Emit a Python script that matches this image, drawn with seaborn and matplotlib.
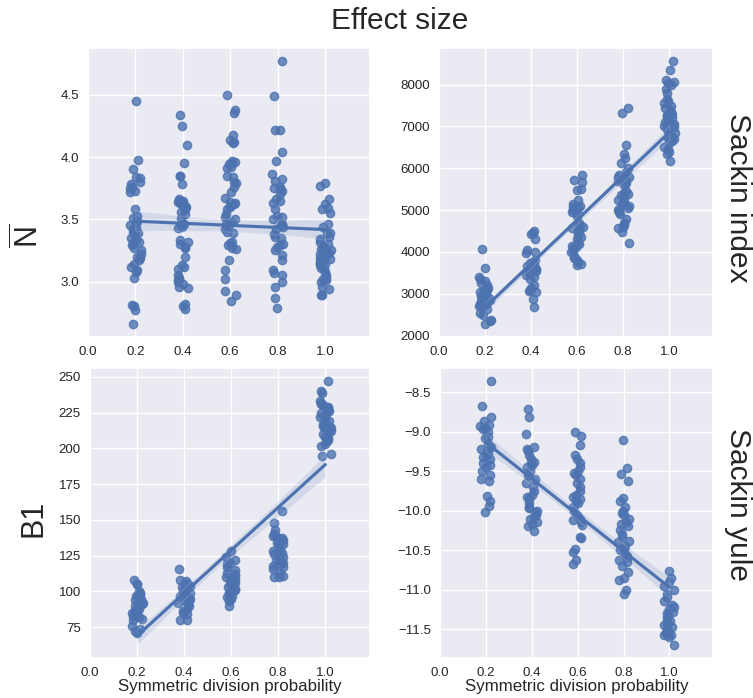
import numpy as np
import pandas as pd
import matplotlib.pyplot as plt
import seaborn as sns

sns.set_theme(style='darkgrid')
plt.rcParams['font.family'] = ['Liberation Sans', 'DejaVu Sans']
plt.rcParams['mathtext.fontset'] = 'custom'
plt.rcParams['mathtext.rm'] = 'Liberation Sans'
plt.rcParams['mathtext.it'] = 'Liberation Sans:italic'

probs = [0.2, 0.4, 0.6, 0.8, 1.0]
x_ticks = [0.0, 0.2, 0.4, 0.6, 0.8, 1.0]

# mean N (N bar)
nbar_02 = [4.45, 3.98, 3.90, 3.84, 3.83, 3.80, 3.78, 3.76, 3.75, 3.73, 3.72, 3.58, 3.53, 3.51,
           3.49, 3.47, 3.45, 3.43, 3.42, 3.41, 3.40, 3.39, 3.37, 3.35, 3.33, 3.32, 3.31, 3.29,
           3.27, 3.25, 3.22, 3.20, 3.19, 3.17, 3.14, 3.12, 3.09, 3.08, 3.03, 2.81, 2.80, 2.77, 2.66]
nbar_04 = [4.34, 4.25, 4.10, 3.95, 3.85, 3.85, 3.78, 3.66, 3.65, 3.65, 3.64, 3.63, 3.62, 3.61,
           3.60, 3.59, 3.58, 3.56, 3.54, 3.51, 3.46, 3.45, 3.44, 3.43, 3.33, 3.32, 3.30, 3.28,
           3.27, 3.20, 3.13, 3.12, 3.10, 3.05, 3.03, 3.02, 3.01, 3.00, 2.98, 2.96, 2.95, 2.82,
           2.80, 2.78]
nbar_06 = [4.50, 4.38, 4.35, 4.18, 4.14, 4.12, 4.11, 3.97, 3.96, 3.95, 3.94, 3.92, 3.91, 3.85,
           3.84, 3.80, 3.79, 3.76, 3.72, 3.67, 3.64, 3.63, 3.62, 3.61, 3.60, 3.58, 3.54, 3.52,
           3.50, 3.48, 3.46, 3.45, 3.42, 3.40, 3.39, 3.32, 3.31, 3.29, 3.27, 3.26, 3.17, 3.09,
           3.02, 2.92, 2.89, 2.84]
nbar_08 = [4.77, 4.49, 4.22, 4.22, 4.04, 3.97, 3.86, 3.82, 3.81, 3.76, 3.75, 3.74, 3.73, 3.70,
           3.66, 3.65, 3.63, 3.58, 3.53, 3.52, 3.50, 3.46, 3.45, 3.44, 3.42, 3.38, 3.36, 3.35,
           3.30, 3.29, 3.28, 3.25, 3.21, 3.17, 3.09, 3.07, 3.05, 3.00, 2.96, 2.87, 2.79]
nbar_10 = [3.79, 3.77, 3.66, 3.62, 3.59, 3.58, 3.55, 3.46, 3.44, 3.39, 3.39, 3.36, 3.34, 3.32,
           3.30, 3.28, 3.27, 3.26, 3.25, 3.24, 3.23, 3.22, 3.20, 3.19, 3.18, 3.17, 3.16, 3.15,
           3.14, 3.13, 3.11, 3.10, 3.08, 3.05, 3.03, 3.02, 3.01, 3.00, 2.96, 2.94, 2.89, 2.89]

# Sackin index
sackin_02 = [4080, 3620, 3400, 3350, 3300, 3250, 3200, 3150, 3120, 3100, 3080, 3050, 3020, 3000,
             2980, 2950, 2920, 2900, 2880, 2860, 2850, 2830, 2820, 2800, 2780, 2760, 2750, 2720,
             2700, 2680, 2650, 2550, 2500, 2380, 2360, 2283]
sackin_04 = [4500, 4450, 4420, 4320, 4050, 4000, 3980, 3800, 3760, 3740, 3720, 3700, 3680, 3660,
             3640, 3620, 3600, 3580, 3560, 3540, 3500, 3450, 3400, 3350, 3200, 3150, 3120, 3100,
             3080, 3050, 2880, 2680]
sackin_06 = [5830, 5730, 5680, 5500, 5470, 5250, 5150, 5100, 5080, 5050, 5000, 4950, 4900, 4850,
             4700, 4650, 4600, 4580, 4550, 4500, 4480, 4450, 4400, 4350, 4300, 4250, 4200, 4150,
             4120, 4100, 4050, 4000, 3900, 3850, 3800, 3750, 3720, 3680]
sackin_08 = [7450, 7330, 6560, 6340, 6250, 6120, 6000, 5900, 5850, 5820, 5800, 5780, 5750, 5720,
             5700, 5650, 5600, 5450, 5420, 5380, 5350, 5300, 5250, 5200, 5150, 5100, 5050, 5020,
             5000, 4950, 4900, 4780, 4700, 4650, 4600, 4580, 4480, 4220]
sackin_10 = [8560, 8350, 8100, 8050, 8030, 8000, 7900, 7800, 7650, 7600, 7550, 7500, 7450, 7400,
             7350, 7300, 7280, 7250, 7200, 7150, 7100, 7050, 7000, 6980, 6950, 6900, 6850, 6800,
             6750, 6720, 6700, 6650, 6600, 6500, 6450, 6400, 6350, 6180]

# B1
b1_02 = [108, 105, 105, 100, 99, 98, 97, 96, 95, 94, 93, 92, 91, 90, 90, 89, 88, 87, 86, 85,
         85, 84, 83, 82, 81, 80, 76, 74, 72, 71]
b1_04 = [116, 108, 107, 106, 105, 104, 103, 102, 101, 100, 100, 99, 98, 97, 96, 95, 94, 93, 92,
         91, 90, 88, 86, 85, 84, 80, 80]
b1_06 = [128, 124, 122, 120, 119, 117, 115, 113, 112, 111, 110, 109, 108, 107, 106, 105, 104,
         103, 102, 101, 100, 99, 98, 97, 96, 95, 94, 93, 90]
b1_08 = [156, 148, 143, 140, 139, 138, 137, 136, 135, 134, 133, 131, 130, 129, 128, 127, 126,
         125, 124, 123, 122, 121, 120, 119, 118, 117, 116, 113, 111, 110, 110]
b1_10 = [247, 240, 239, 233, 232, 231, 230, 229, 228, 227, 226, 226, 225, 224, 222, 220, 219,
         218, 217, 216, 215, 215, 214, 213, 212, 211, 210, 208, 207, 206, 205, 203, 202, 196, 195]

# Sackin yule
yule_02 = [-8.36, -8.68, -8.82, -8.87, -8.92, -8.93, -8.95, -8.97, -9.00, -9.07, -9.08, -9.15,
           -9.20, -9.22, -9.25, -9.28, -9.30, -9.32, -9.35, -9.40, -9.42, -9.45, -9.50, -9.55,
           -9.60, -9.63, -9.82, -9.88, -9.94, -10.02]
yule_04 = [-8.71, -8.81, -9.03, -9.20, -9.22, -9.25, -9.30, -9.35, -9.38, -9.40, -9.42, -9.45,
           -9.50, -9.55, -9.60, -9.65, -9.70, -9.75, -9.80, -9.83, -9.85, -9.90, -9.95, -9.97,
           -10.00, -10.02, -10.05, -10.08, -10.10, -10.15, -10.17, -10.20, -10.26]
yule_06 = [-9.00, -9.05, -9.17, -9.30, -9.35, -9.40, -9.45, -9.50, -9.52, -9.55, -9.60, -9.65,
           -9.70, -9.75, -9.80, -9.83, -9.85, -9.88, -9.90, -9.95, -10.00, -10.05, -10.10,
           -10.12, -10.15, -10.18, -10.33, -10.35, -10.48, -10.52, -10.62, -10.68]
yule_08 = [-9.10, -9.46, -9.54, -9.63, -9.84, -9.88, -9.95, -10.00, -10.03, -10.05, -10.10,
           -10.14, -10.17, -10.20, -10.25, -10.30, -10.34, -10.38, -10.40, -10.45, -10.48, -10.50,
           -10.55, -10.58, -10.60, -10.62, -10.65, -10.70, -10.78, -10.85, -10.88, -11.00, -11.06]
yule_10 = [-10.76, -10.85, -10.90, -10.95, -11.00, -11.05, -11.10, -11.15, -11.20, -11.22, -11.25,
           -11.28, -11.30, -11.32, -11.35, -11.38, -11.40, -11.42, -11.45, -11.48, -11.50, -11.52,
           -11.55, -11.57, -11.58, -11.60, -11.70]


def make_df(groups):
    rows = []
    for p, vals in zip(probs, groups):
        for v in vals:
            rows.append((p, v))
    return pd.DataFrame(rows, columns=['prob', 'value'])


panels = [
    (make_df([nbar_02, nbar_04, nbar_06, nbar_08, nbar_10]), [88, 48, 282, 289]),
    (make_df([sackin_02, sackin_04, sackin_06, sackin_08, sackin_10]), [439, 48, 274, 289]),
    (make_df([b1_02, b1_04, b1_06, b1_08, b1_10]), [90, 368, 280, 290]),
    (make_df([yule_02, yule_04, yule_06, yule_08, yule_10]), [440, 368, 273, 290]),
]

W, H = 753, 698
fig = plt.figure(figsize=(W / 100, H / 100), dpi=100)
np.random.seed(3)
axes = []
for df, (l, t, w, h) in panels:
    ax = fig.add_axes([l / W, 1 - (t + h) / H, w / W, h / H])
    sns.regplot(data=df, x='prob', y='value', ax=ax, x_jitter=0.025, color='#4C72B0')
    ax.set_xlim(0, 1.19)
    ax.set_xticks(x_ticks)
    ax.tick_params(labelsize=9.6, pad=0.5)
    ax.set_xlabel('')
    ax.set_ylabel('')
    axes.append(ax)

for ax in axes[2:]:
    ax.set_xlabel('Symmetric division probability', fontsize=12.2, labelpad=0)

axes[0].text(-0.21, 0.35, r'$\overline{\mathrm{N}}$', rotation=90, ha='center', va='center',
             fontsize=22, transform=axes[0].transAxes)
axes[2].text(-0.2, 0.48, 'B1', rotation=90, ha='center', va='center',
             fontsize=22, transform=axes[2].transAxes)
axes[1].text(1.09, 0.48, 'Sackin index', rotation=270, ha='center', va='center',
             fontsize=21.5, transform=axes[1].transAxes)
axes[3].text(1.09, 0.53, 'Sackin yule', rotation=270, ha='center', va='center',
             fontsize=21.5, transform=axes[3].transAxes)

fig.text(400 / W, 1 - 21 / H, 'Effect size', ha='center', va='center', fontsize=21.5)

plt.savefig('out.png', dpi=100)
